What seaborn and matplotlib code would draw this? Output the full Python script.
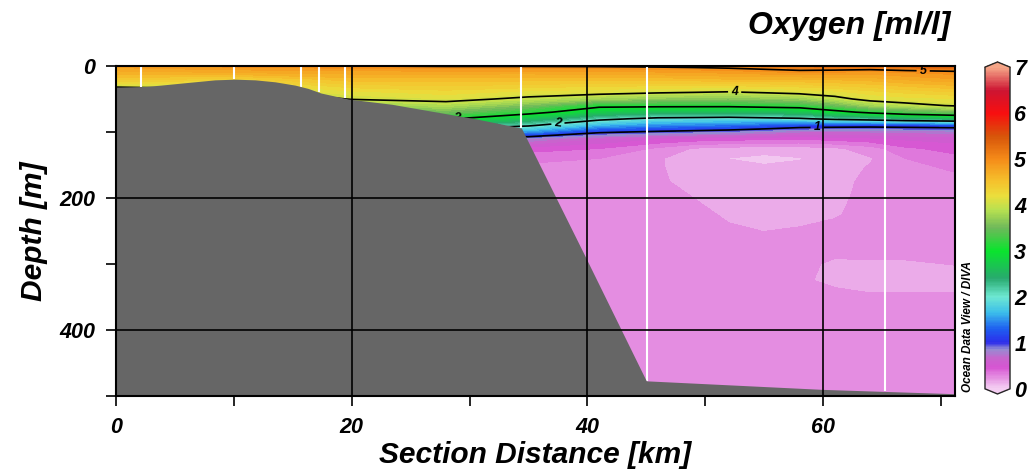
import numpy as np
import matplotlib
matplotlib.use("Agg")
import matplotlib.pyplot as plt
from matplotlib.colors import LinearSegmentedColormap, Normalize
from matplotlib.cm import ScalarMappable
from matplotlib.ticker import MultipleLocator
import seaborn as sns

# section grid (distance along section, depth)
dist_km = [0, 10, 20, 28, 35, 41, 46, 49, 52, 55, 58, 61, 64, 67, 72]
depth_m = [0, 5, 10, 20, 30, 40, 50, 60, 70, 80, 90, 100, 110, 125,
           140, 155, 175, 200, 225, 250, 275, 300, 325, 350, 400, 500]

# oxygen [ml/l] profiles, one list per distance column (top -> bottom)
oxy_0 = [4.85, 4.75, 4.65, 4.45, 4.05, 3.80, 3.50, 3.20, 2.90, 2.50, 2.00, 1.20, 0.60, 0.40, 0.30, 0.28, 0.26, 0.25, 0.25, 0.25, 0.25, 0.25, 0.25, 0.25, 0.25, 0.25]
oxy_10 = [4.95, 4.82, 4.70, 4.35, 4.10, 3.90, 3.60, 3.30, 2.95, 2.55, 2.05, 1.30, 0.65, 0.40, 0.30, 0.28, 0.26, 0.25, 0.25, 0.25, 0.25, 0.25, 0.25, 0.25, 0.25, 0.25]
oxy_20 = [5.00, 4.86, 4.74, 4.56, 4.36, 4.16, 4.02, 3.70, 3.30, 2.80, 2.20, 1.40, 0.70, 0.40, 0.30, 0.28, 0.26, 0.25, 0.25, 0.25, 0.25, 0.25, 0.25, 0.25, 0.25, 0.25]
oxy_28 = [5.02, 4.87, 4.74, 4.56, 4.40, 4.25, 4.10, 3.85, 3.50, 3.05, 2.45, 1.60, 0.80, 0.42, 0.30, 0.28, 0.26, 0.25, 0.25, 0.25, 0.25, 0.25, 0.25, 0.25, 0.25, 0.25]
oxy_35 = [5.02, 4.87, 4.74, 4.55, 4.36, 4.15, 3.93, 3.55, 3.15, 2.60, 2.05, 1.50, 0.80, 0.45, 0.32, 0.28, 0.25, 0.24, 0.24, 0.24, 0.24, 0.24, 0.24, 0.24, 0.24, 0.24]
oxy_41 = [5.03, 4.88, 4.75, 4.55, 4.32, 4.10, 3.75, 3.10, 2.70, 2.10, 1.60, 1.05, 0.60, 0.40, 0.30, 0.26, 0.23, 0.23, 0.24, 0.24, 0.24, 0.24, 0.24, 0.24, 0.24, 0.24]
oxy_46 = [5.05, 4.90, 4.78, 4.55, 4.30, 4.03, 3.65, 3.10, 2.55, 1.90, 1.45, 0.95, 0.50, 0.28, 0.21, 0.21, 0.21, 0.22, 0.23, 0.24, 0.24, 0.24, 0.24, 0.24, 0.24, 0.24]
oxy_49 = [5.07, 4.92, 4.80, 4.57, 4.30, 4.00, 3.62, 3.10, 2.52, 1.88, 1.40, 0.90, 0.47, 0.19, 0.15, 0.16, 0.18, 0.20, 0.22, 0.23, 0.24, 0.24, 0.24, 0.24, 0.24, 0.24]
oxy_52 = [5.10, 4.95, 4.82, 4.60, 4.30, 3.97, 3.60, 3.10, 2.50, 1.85, 1.35, 0.85, 0.45, 0.16, 0.098, 0.13, 0.15, 0.17, 0.19, 0.21, 0.23, 0.23, 0.24, 0.24, 0.24, 0.24]
oxy_55 = [5.15, 5.00, 4.86, 4.60, 4.32, 4.02, 3.65, 3.15, 2.55, 1.90, 1.25, 0.78, 0.43, 0.15, 0.07, 0.12, 0.14, 0.16, 0.18, 0.199, 0.22, 0.23, 0.24, 0.24, 0.24, 0.24]
oxy_58 = [5.25, 5.05, 4.90, 4.60, 4.35, 4.08, 3.70, 3.20, 2.60, 1.95, 1.15, 0.70, 0.42, 0.15, 0.095, 0.12, 0.14, 0.15, 0.17, 0.21, 0.23, 0.215, 0.21, 0.23, 0.24, 0.24]
oxy_61 = [5.30, 5.04, 4.88, 4.62, 4.40, 4.15, 3.90, 3.45, 2.85, 2.10, 1.12, 0.70, 0.45, 0.18, 0.14, 0.15, 0.16, 0.17, 0.19, 0.23, 0.22, 0.19, 0.185, 0.22, 0.23, 0.24]
oxy_64 = [5.35, 5.02, 4.85, 4.65, 4.45, 4.25, 4.10, 3.75, 3.10, 2.20, 1.10, 0.70, 0.48, 0.25, 0.19, 0.21, 0.23, 0.24, 0.24, 0.24, 0.23, 0.19, 0.17, 0.21, 0.23, 0.24]
oxy_67 = [5.40, 5.06, 4.90, 4.72, 4.52, 4.32, 4.15, 3.90, 3.30, 2.35, 1.12, 0.72, 0.52, 0.38, 0.30, 0.27, 0.25, 0.24, 0.24, 0.24, 0.23, 0.19, 0.17, 0.21, 0.23, 0.24]
oxy_72 = [5.45, 5.10, 4.95, 4.80, 4.60, 4.40, 4.20, 4.05, 3.50, 2.50, 1.15, 0.75, 0.55, 0.45, 0.38, 0.32, 0.28, 0.25, 0.24, 0.23, 0.22, 0.205, 0.17, 0.21, 0.23, 0.24]
oxygen = np.column_stack([oxy_0, oxy_10, oxy_20, oxy_28, oxy_35, oxy_41, oxy_46, oxy_49,
                          oxy_52, oxy_55, oxy_58, oxy_61, oxy_64, oxy_67, oxy_72])

# sea floor
bottom_km = [0, 2.5, 3.8, 5.5, 8.4, 10.1, 11.8, 13.5, 15.2, 16.3, 17.4, 19.7,
             23.4, 30.5, 34.4, 39.8, 45.0, 60.0, 72.0]
bottom_m = [32, 31, 29, 26, 21, 20, 21, 24, 29, 34, 41, 50,
            58, 80, 94, 288, 477, 490, 497]

# station positions
station_km = [2.1, 10.0, 15.7, 17.2, 19.4, 34.4, 45.1, 65.3]

contour_levels = [1, 2, 3, 4, 5]
cbar_ticks = [0, 1, 2, 3, 4, 5, 6, 7]

# ODV-like colour table
odv_stops = [
    (0.00, (244, 205, 242)), (0.10, (238, 182, 236)), (0.20, (230, 152, 227)),
    (0.30, (225, 128, 222)), (0.45, (214, 85, 210)), (0.65, (200, 100, 205)),
    (0.85, (150, 140, 210)), (1.00, (45, 45, 235)), (1.30, (30, 95, 240)),
    (1.65, (60, 190, 235)), (2.00, (110, 232, 210)), (2.40, (40, 170, 110)),
    (3.00, (10, 228, 45)), (3.50, (110, 185, 90)), (3.90, (185, 225, 80)),
    (4.20, (235, 222, 60)), (4.50, (245, 195, 45)), (5.00, (245, 140, 25)),
    (5.50, (215, 85, 10)), (6.00, (248, 15, 15)), (6.50, (205, 20, 50)),
    (7.00, (245, 165, 135)),
]
cmap = LinearSegmentedColormap.from_list(
    "odv", [(v / 7.0, tuple(c / 255 for c in rgb)) for v, rgb in odv_stops])
norm = Normalize(0, 7)

sns.set_style("ticks")
plt.rcParams["font.family"] = ["Liberation Sans", "DejaVu Sans"]
plt.rcParams["font.weight"] = "bold"
plt.rcParams["font.style"] = "italic"
plt.rcParams["axes.labelweight"] = "bold"
plt.rcParams["text.color"] = "black"
plt.rcParams["axes.labelcolor"] = "black"
plt.rcParams["xtick.color"] = "black"
plt.rcParams["ytick.color"] = "black"

fig = plt.figure(figsize=(10.34, 4.72), dpi=100)
ax = fig.add_axes([0.1122, 0.161, 0.8114, 0.6992])

X, Y = np.meshgrid(dist_km, depth_m)
ax.contourf(X, Y, oxygen, levels=np.arange(0, 7.05, 0.1), cmap=cmap, norm=norm,
            extend="both", zorder=1)
cs = ax.contour(X, Y, oxygen, levels=contour_levels, colors="black",
                linewidths=1.2, zorder=2)
labels = ax.clabel(cs, fmt="%d", fontsize=9, inline=True, inline_spacing=3,
                   manual=[(68.5, 5), (52.5, 39), (29.0, 78), (37.5, 87), (59.5, 95)])
for t in labels:
    t.set_zorder(2.05)

# station casts and bottom
ax.vlines(station_km, 0, np.interp(station_km, bottom_km, bottom_m),
          colors="white", linewidth=1.5, zorder=2.1)
ax.fill_between(bottom_km, bottom_m, 600, color="#666666", linewidth=0, zorder=2.2)

ax.set_xlim(0, 71.2)
ax.set_ylim(500, 0)
ax.xaxis.set_major_locator(MultipleLocator(20))
ax.xaxis.set_minor_locator(MultipleLocator(10))
ax.yaxis.set_major_locator(MultipleLocator(200))
ax.yaxis.set_minor_locator(MultipleLocator(100))
ax.set_axisbelow(False)
ax.grid(True, which="major", color="black", linewidth=1.2)
ax.tick_params(which="both", direction="out", length=7, width=1.2, color="black")
ax.tick_params(axis="x", labelsize=15.5, pad=8)
ax.tick_params(axis="y", labelsize=15.5, pad=8)
for sp in ax.spines.values():
    sp.set_color("black")
    sp.set_linewidth(1.5)

ax.set_xlabel("Section Distance [km]", fontsize=21.5, labelpad=2)
ax.set_ylabel("Depth [m]", fontsize=21.5, labelpad=8)

fig.text(0.919, 0.945, "Oxygen [ml/l]", fontsize=23, ha="right", va="center")
fig.text(0.936, 0.17, "Ocean Data View / DIVA", fontsize=8.5, rotation=90,
         ha="center", va="bottom")

# colour bar
cax = fig.add_axes([0.9526, 0.1653, 0.0242, 0.7034])
sm = ScalarMappable(norm=norm, cmap=cmap)
cb = fig.colorbar(sm, cax=cax, extend="both", extendfrac=0.016, ticks=cbar_ticks)
cb.outline.set_linewidth(1.0)
cax.tick_params(direction="in", length=4, width=1.2, left=True, right=True,
                labelleft=False, labelright=True, labelsize=15.5, pad=3)

fig.savefig("out.png", dpi=100)
